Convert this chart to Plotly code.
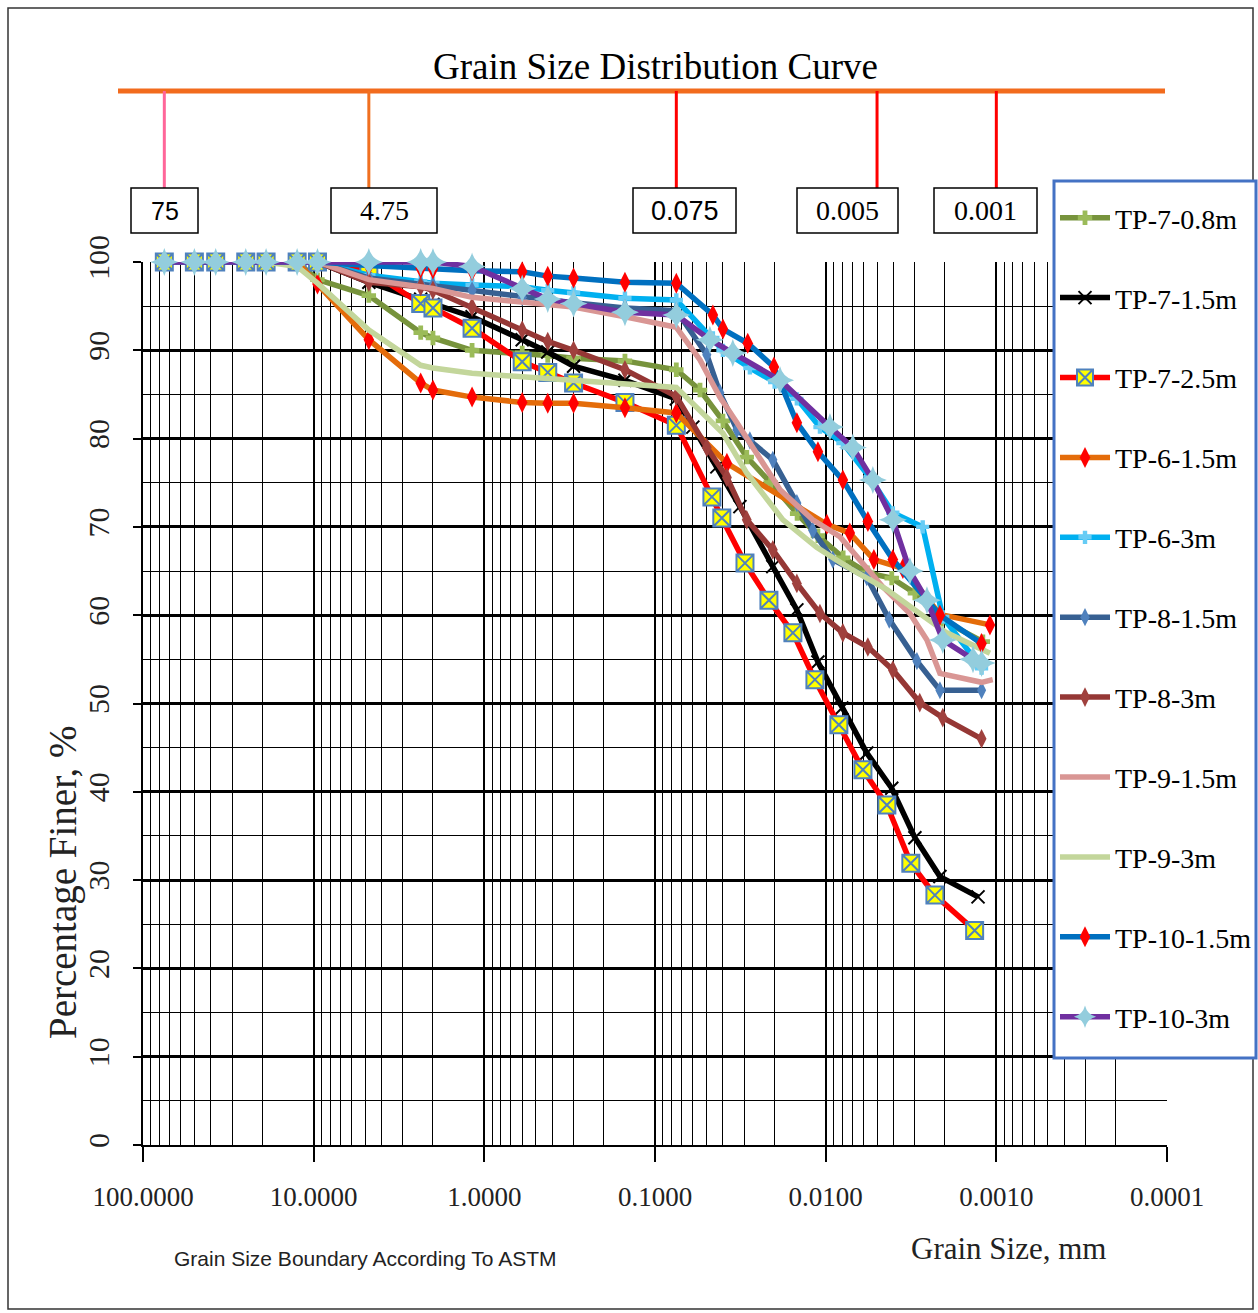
import plotly.graph_objects as go

# ---------------- data ----------------
SIEVE_MM = [75, 50, 37.5, 25, 19, 12.5, 9.5, 4.75, 2.36, 2.0, 1.18, 0.6, 0.425, 0.3, 0.15, 0.075]

tp7_08_x = SIEVE_MM + [0.0545, 0.0400, 0.0290, 0.0210, 0.0147, 0.0111, 0.0079, 0.0057, 0.0041, 0.0030, 0.0021, 0.0012]
tp7_08_y = [100, 100, 100, 100, 100, 100, 98.0, 96.2, 92.0, 91.4, 90.0, 89.7, 89.4, 89.1, 88.8, 87.8,
            85.5, 82.0, 77.9, 75.0, 71.5, 69.0, 66.5, 64.8, 64.2, 62.5, 59.5, 57.0]

tp7_15_x = SIEVE_MM + [0.0600, 0.0434, 0.0318, 0.0204, 0.01475, 0.0111, 0.00804, 0.00574, 0.0041, 0.0030, 0.00214, 0.00128]
tp7_15_y = [100, 100, 100, 100, 100, 100, 100, 97.7, 95.8, 95.2, 93.8, 91.2, 89.8, 88.2, 86.6, 84.5,
            81.3, 76.8, 72.3, 65.5, 60.6, 54.7, 49.5, 44.4, 40.4, 34.8, 30.4, 28.1]

tp7_25_x = SIEVE_MM + [0.0464, 0.0406, 0.0297, 0.0215, 0.01556, 0.01156, 0.00837, 0.00605, 0.00438, 0.00317, 0.00229, 0.00134]
tp7_25_y = [100, 100, 100, 100, 100, 100, 100, 99.0, 95.3, 94.8, 92.5, 88.7, 87.5, 86.3, 84.1, 81.5,
            73.4, 71.0, 65.9, 61.7, 58.0, 52.7, 47.6, 42.5, 38.5, 31.9, 28.3, 24.3]

tp6_15_x = SIEVE_MM + [0.0379, 0.00984, 0.00722, 0.00522, 0.00353, 0.00214, 0.00109]
tp6_15_y = [100, 100, 100, 100, 100, 100, 97.5, 91.2, 86.3, 85.5, 84.7, 84.1, 84.0, 84.0, 83.5, 82.9,
            77.2, 70.3, 69.3, 66.3, 65.3, 60.1, 58.9]

tp6_3_x = SIEVE_MM + [0.0458, 0.0400, 0.0278, 0.0199, 0.01475, 0.0108, 0.00793, 0.00551, 0.00404, 0.0027, 0.00206, 0.00122]
tp6_3_y = [100, 100, 100, 100, 100, 100, 100, 98.5, 97.8, 97.6, 97.4, 97.2, 96.8, 96.5, 95.9, 95.7,
           91.4, 90.0, 88.0, 86.4, 84.5, 81.3, 79.5, 75.6, 71.6, 70.0, 59.8, 54.0]

tp8_15_x = SIEVE_MM + [0.0497, 0.0417, 0.0331, 0.0278, 0.0204, 0.01475, 0.0119, 0.00908, 0.00574, 0.00424, 0.00292, 0.00214, 0.00122]
tp8_15_y = [100, 100, 100, 100, 100, 100, 100, 98.2, 97.5, 97.3, 96.8, 96.0, 95.7, 95.4, 94.8, 94.5,
            89.5, 85.2, 81.0, 79.8, 77.6, 72.7, 69.6, 66.3, 64.3, 59.5, 54.8, 51.5, 51.5]

tp8_3_x = SIEVE_MM + [0.0497, 0.0379, 0.0290, 0.0204, 0.01475, 0.0108, 0.00793, 0.00566, 0.00404, 0.00281, 0.00206, 0.00122]
tp8_3_y = [100, 100, 100, 100, 100, 100, 100, 97.7, 97.2, 96.8, 94.9, 92.3, 91.0, 90.0, 87.8, 84.8,
           79.0, 75.6, 70.8, 67.4, 63.6, 60.2, 58.0, 56.4, 53.8, 50.1, 48.4, 46.0]

tp9_15_x = SIEVE_MM + [0.0545, 0.0417, 0.0331, 0.0185, 0.0119, 0.00826, 0.00462, 0.00321, 0.00255, 0.00214, 0.00122, 0.00105]
tp9_15_y = [100, 100, 100, 100, 100, 100, 100, 98.0, 97.2, 97.0, 96.0, 95.5, 95.2, 94.9, 93.8, 92.6,
            88.9, 84.7, 81.8, 74.2, 70.8, 68.9, 63.2, 60.2, 57.2, 53.4, 52.4, 52.7]

tp9_3_x = SIEVE_MM + [0.0400, 0.0290, 0.0178, 0.0113, 0.00751, 0.00438, 0.00281, 0.00195, 0.00109]
tp9_3_y = [100, 100, 100, 100, 100, 99.5, 97.6, 92.3, 88.3, 88.0, 87.4, 87.0, 86.8, 86.6, 86.3, 85.8,
           80.6, 76.1, 70.8, 67.7, 65.5, 62.9, 60.2, 58.0, 55.7]

tp10_15_x = SIEVE_MM + [0.0458, 0.0400, 0.0286, 0.0201, 0.01475, 0.0111, 0.00793, 0.00566, 0.00404, 0.00214, 0.00122]
tp10_15_y = [100, 100, 100, 100, 100, 100, 100, 99.6, 99.3, 99.2, 99.0, 98.9, 98.4, 98.2, 97.7, 97.6,
             94.0, 92.4, 90.8, 88.1, 81.8, 78.5, 75.3, 70.6, 66.3, 60.0, 56.8]

tp10_3_x = SIEVE_MM + [0.0477, 0.0350, 0.0185, 0.00944, 0.00693, 0.00529, 0.00404, 0.00321, 0.00255, 0.00206, 0.00137, 0.00122]
tp10_3_y = [100, 100, 100, 100, 100, 100, 100, 100, 100, 100, 99.5, 97.0, 95.8, 95.3, 94.3, 94.0,
            91.2, 89.7, 86.6, 81.3, 79.0, 75.3, 70.8, 65.0, 61.7, 57.2, 55.0, 54.6]

# ASTM boundary sizes shown on top of the chart (mm)
ASTM_BOUNDS = [75, 4.75, 0.075, 0.005, 0.001]
ASTM_LABELS = ["75", "4.75", "0.075", "0.005", "0.001"]

X_TICKS = [100, 10, 1, 0.1, 0.01, 0.001, 0.0001]
X_TICK_TEXT = ["100.0000", "10.0000", "1.0000", "0.1000", "0.0100", "0.0010", "0.0001"]

# ---------------- figure geometry ----------------
W, H = 1258, 1313
L, R, T, B = 143, 1167, 262, 1145   # plot area edges in px


def px(xp):
    return (xp - L) / (R - L)


def py(yp):
    return (B - yp) / (B - T)


SERIF = "Liberation Serif, Times New Roman, serif"
SANS = "Liberation Sans, Arial, sans-serif"

series = [
    ("TP-7-0.8m", tp7_08_x, tp7_08_y, "#77933C", dict(symbol="cross", size=12, color="#9BBB59")),
    ("TP-7-1.5m", tp7_15_x, tp7_15_y, "#000000", dict(symbol="x-thin-open", size=13, line=dict(color="#4B3F72", width=2))),
    ("TP-7-2.5m", tp7_25_x, tp7_25_y, "#FF0000", dict(symbol="square-x", size=17, color="#FFFF00", line=dict(color="#4F81BD", width=2))),
    ("TP-6-1.5m", tp6_15_x, tp6_15_y, "#E46C0A", dict(symbol="diamond-tall", size=15, color="#FF0000")),
    ("TP-6-3m", tp6_3_x, tp6_3_y, "#00B0F0", dict(symbol="cross", size=11, color="#66CCF5")),
    ("TP-8-1.5m", tp8_15_x, tp8_15_y, "#376092", dict(symbol="diamond-tall", size=13, color="#4F81BD")),
    ("TP-8-3m", tp8_3_x, tp8_3_y, "#953735", dict(symbol="diamond-tall", size=14, color="#A0413E")),
    ("TP-9-1.5m", tp9_15_x, tp9_15_y, "#D99694", None),
    ("TP-9-3m", tp9_3_x, tp9_3_y, "#C3D69B", None),
    ("TP-10-1.5m", tp10_15_x, tp10_15_y, "#0070C0", dict(symbol="diamond-tall", size=15, color="#FF0000")),
    ("TP-10-3m", tp10_3_x, tp10_3_y, "#7030A0", dict(symbol="star-diamond", size=20, color="#93CDDD")),
]

fig = go.Figure()
for i, (name, xs, ys, col, mk) in enumerate(series):
    kw = dict(mode="lines+markers", marker=mk) if mk else dict(mode="lines")
    fig.add_trace(go.Scatter(
        x=xs, y=ys, name=name, legendgroup=f"g{i}",
        line=dict(color=col, width=5.5), cliponaxis=False, **kw))

# minor log grid values (2..9 within each decade)
minor_vals = [m * 10.0 ** e for e in range(-4, 2) for m in range(2, 10)]

fig.update_xaxes(
    type="log", range=[2, -4],
    tickvals=X_TICKS, ticktext=X_TICK_TEXT,
    tickfont=dict(family=SERIF, size=27, color="#222"),
    ticks="outside", ticklen=15, tickwidth=2, tickcolor="black",
    showgrid=True, gridcolor="black", gridwidth=2,
    minor=dict(tickvals=minor_vals, showgrid=True, gridcolor="black", gridwidth=1.2, ticks=""),
    showline=True, linecolor="black", linewidth=2,
    zeroline=False, ticklabelstandoff=12,
)
fig.update_yaxes(
    range=[0, 100], dtick=10, tick0=0,
    tickangle=-90,
    tickfont=dict(family=SERIF, size=30, color="#222"),
    ticks="outside", ticklen=8, tickwidth=2, tickcolor="black",
    showgrid=True, gridcolor="black", gridwidth=3,
    minor=dict(dtick=5, showgrid=True, gridcolor="black", gridwidth=1.2, ticks=""),
    showline=True, linecolor="black", linewidth=2,
    zeroline=False, ticklabelstandoff=12,
)

shapes = []
annotations = []

# orange boundary bar with drop lines to the ASTM size boxes
shapes.append(dict(type="line", xref="paper", yref="paper",
                   x0=px(118), x1=px(1165), y0=py(91), y1=py(91),
                   line=dict(color="#F26B1D", width=5)))
drop_colors = ["#FF6699", "#F07020", "#FF0000", "#FF0000", "#FF0000"]
for b, c in zip(ASTM_BOUNDS, drop_colors):
    shapes.append(dict(type="line", xref="x", yref="paper", x0=b, x1=b,
                       y0=py(91), y1=py(188), line=dict(color=c, width=3)))

box_px = [(131, 198), (331, 437), (633, 736), (797, 898), (934, 1037)]
box_font = [SANS, SERIF, SANS, SERIF, SERIF]
box_size = [25, 28, 27, 28, 28]
for (a, b), lab, f, s in zip(box_px, ASTM_LABELS, box_font, box_size):
    shapes.append(dict(type="rect", xref="paper", yref="paper",
                       x0=px(a), x1=px(b), y0=py(233), y1=py(188),
                       line=dict(color="black", width=1.5), fillcolor="white"))
    annotations.append(dict(xref="paper", yref="paper", x=px((a + b) / 2), y=py(211),
                            text=lab, showarrow=False, font=dict(family=f, size=s, color="black"),
                            xanchor="center", yanchor="middle"))

# legend frame (white box over the right end of the grid)
shapes.append(dict(type="rect", xref="paper", yref="paper",
                   x0=px(1054), x1=px(1256), y0=py(1058), y1=py(181),
                   line=dict(color="#4472C4", width=3), fillcolor="white", layer="above"))

# outer frame
shapes.append(dict(type="rect", xref="paper", yref="paper",
                   x0=px(8), x1=px(1253), y0=py(1309), y1=py(8),
                   line=dict(color="#333", width=1.5), layer="below"))

annotations += [
    dict(xref="paper", yref="paper", x=px(655), y=py(66), text="Grain Size Distribution Curve",
         showarrow=False, font=dict(family=SERIF, size=37, color="black"),
         xanchor="center", yanchor="middle"),
    dict(xref="paper", yref="paper", x=px(1008), y=py(1248), text="Grain Size, mm",
         showarrow=False, font=dict(family=SERIF, size=31, color="#222"),
         xanchor="center", yanchor="middle"),
    dict(xref="paper", yref="paper", x=px(365), y=py(1258), text="Grain Size Boundary According To ASTM",
         showarrow=False, font=dict(family=SANS, size=21, color="#222"),
         xanchor="center", yanchor="middle"),
    dict(xref="paper", yref="paper", x=px(63), y=py(882), text="Percentage Finer, %",
         showarrow=False, textangle=-90, font=dict(family=SERIF, size=39, color="#222"),
         xanchor="center", yanchor="middle"),
]

fig.update_layout(
    width=W, height=H, autosize=False,
    margin=dict(l=L, r=W - R, t=T, b=H - B, autoexpand=False),
    paper_bgcolor="white", plot_bgcolor="white",
    shapes=shapes, annotations=annotations,
    showlegend=True,
    legend=dict(
        x=px(1055), y=py(193), xanchor="left", yanchor="top",
        bgcolor="rgba(0,0,0,0)", borderwidth=0,
        font=dict(family=SERIF, size=28, color="black"),
        tracegroupgap=40.5, itemwidth=50, traceorder="grouped",
        maxheight=1000,
    ),
)

fig.write_html("out.html", config={"responsive": False})
